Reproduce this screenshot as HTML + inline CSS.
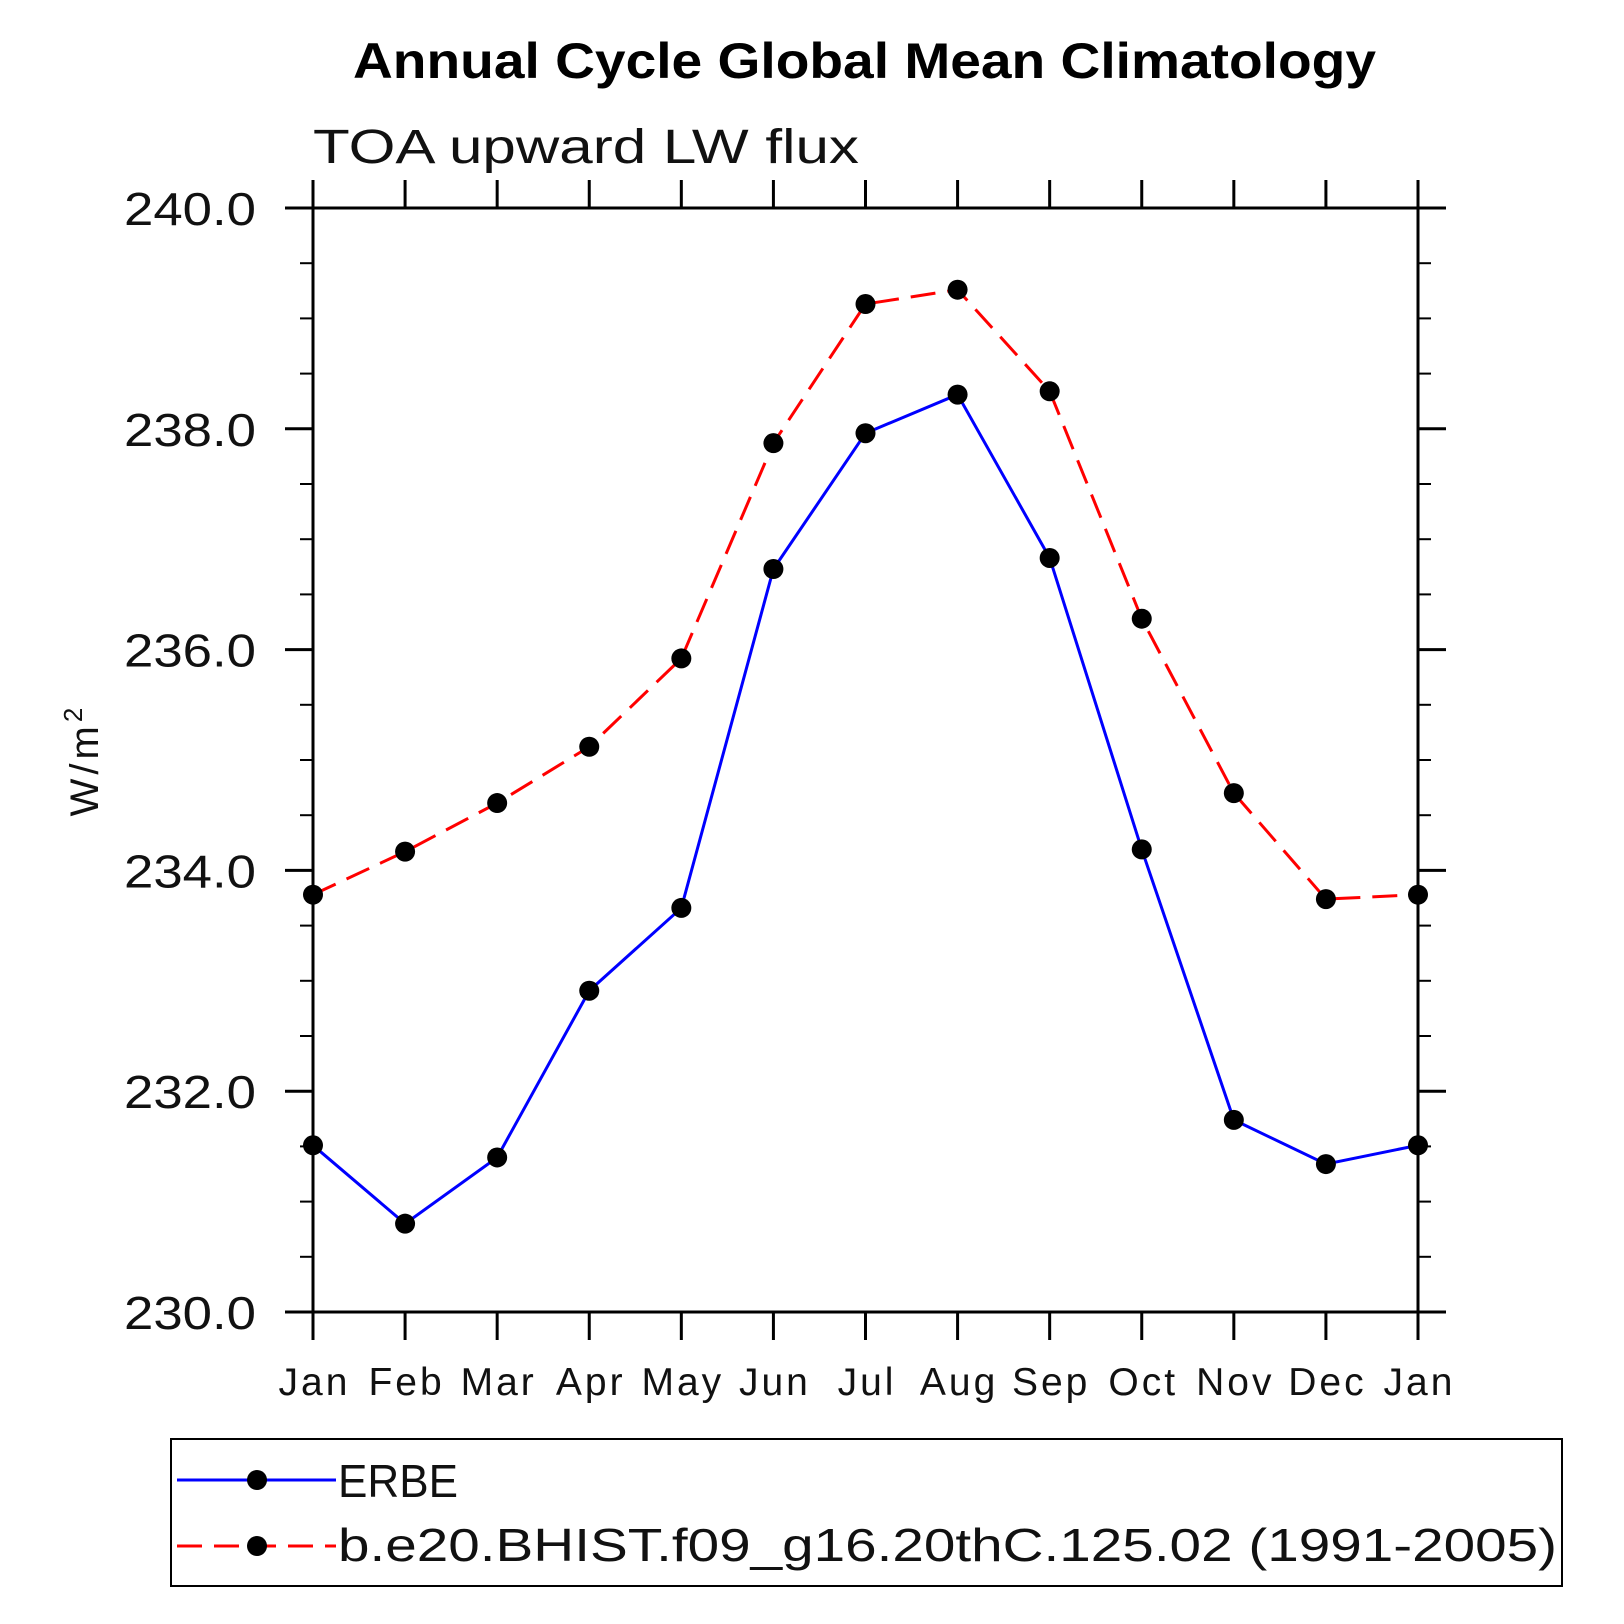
<!DOCTYPE html>
<html><head><meta charset="utf-8"><style>
html,body{margin:0;padding:0;background:#fff;}
svg{display:block;}
text{font-family:"Liberation Sans",sans-serif;}
</style></head><body>
<svg id="chart" width="1624" height="1624" viewBox="0 0 1624 1624" xmlns="http://www.w3.org/2000/svg">
<text x="353" y="78" font-size="50" font-weight="bold" textLength="1023" lengthAdjust="spacingAndGlyphs">Annual Cycle Global Mean Climatology</text>
<text x="313" y="163" font-size="48" textLength="546" lengthAdjust="spacingAndGlyphs" fill="#111">TOA upward LW flux</text>
<text transform="translate(98,760) rotate(-90)" text-anchor="middle" font-size="40" fill="#111" letter-spacing="4">W/m<tspan dy="-16" font-size="26">2</tspan></text>
<g id="axes"></g>
<g id="series"></g>
<g>
<rect x="171" y="1439" width="1391" height="147" fill="none" stroke="#000" stroke-width="2"/>
<g>
<line x1="177" y1="1480" x2="336" y2="1480" stroke="#00f" stroke-width="3"/>
<circle cx="257" cy="1480" r="10" fill="#000"/>
<text x="338" y="1497" font-size="46" fill="#111" textLength="120" lengthAdjust="spacingAndGlyphs">ERBE</text>
</g>
<g>
<line x1="177" y1="1546" x2="336" y2="1546" stroke="#f00" stroke-width="3" stroke-dasharray="25,12"/>
<circle cx="257" cy="1546" r="10" fill="#000"/>
<text x="338" y="1561" font-size="46" fill="#111" textLength="1219" lengthAdjust="spacingAndGlyphs">b.e20.BHIST.f09_g16.20thC.125.02 (1991-2005)</text>
</g>
</g>
</svg>
<script>
const months = ["Jan","Feb","Mar","Apr","May","Jun","Jul","Aug","Sep","Oct","Nov","Dec","Jan"];
const erbeValues = [231.51,230.80,231.40,232.91,233.66,236.73,237.96,238.31,236.83,234.19,231.74,231.34,231.51];
const modelValues = [233.78,234.17,234.61,235.12,235.92,237.87,239.13,239.26,238.34,236.28,234.70,233.74,233.78];
const yTicks = [230,232,234,236,238,240];
const yTickLabels = ["230.0","232.0","234.0","236.0","238.0","240.0"];
const yMin = 230, yMax = 240, yMinorStep = 0.5;

const L=313,R=1418,T=208,B=1312;
const NS="http://www.w3.org/2000/svg";
function xs(i){return L+(R-L)*i/(months.length-1);}
function ys(v){return B-(B-T)*(v-yMin)/(yMax-yMin);}
function mk(tag,attrs,parent){const e=document.createElementNS(NS,tag);for(const k in attrs)e.setAttribute(k,attrs[k]);parent.appendChild(e);return e;}
const axes=document.getElementById('axes');
const frame=mk('rect',{x:L,y:T,width:R-L,height:B-T,fill:'none',stroke:'#000','stroke-width':3},axes);


months.forEach((m,i)=>{
  const x=xs(i);
  const t1=mk('line',{x1:x,y1:B,x2:x,y2:B+28,stroke:'#000','stroke-width':3},axes);
  
  
  const t2=mk('line',{x1:x,y1:T,x2:x,y2:T-28,stroke:'#000','stroke-width':3},axes);
  
  
  const lb=mk('text',{x:x+1.5,y:1395,'text-anchor':'middle','font-size':39,fill:'#111','letter-spacing':3},axes);
  lb.textContent=m;
  
  
});
for(let v=yMin;v<=yMax+1e-9;v+=yMinorStep){
  const y=ys(v);
  const a=mk('line',{x1:L,y1:y,x2:L-13,y2:y,stroke:'#000','stroke-width':2},axes);
  
  
  const b=mk('line',{x1:R,y1:y,x2:R+13,y2:y,stroke:'#000','stroke-width':2},axes);
  
  
}
yTicks.forEach((v,i)=>{
  const y=ys(v);
  const a=mk('line',{x1:L,y1:y,x2:L-28,y2:y,stroke:'#000','stroke-width':3},axes);
  
  
  const b=mk('line',{x1:R,y1:y,x2:R+28,y2:y,stroke:'#000','stroke-width':3},axes);
  
  
  const lb=mk('text',{x:124,y:y+17,'font-size':46,fill:'#111',textLength:132,lengthAdjust:'spacingAndGlyphs'},axes);
  lb.textContent=yTickLabels[i];
  
  
});
const series=document.getElementById('series');
function drawSeries(vals,color,dash,name){
  const pts=vals.map((v,i)=>xs(i)+','+ys(v)).join(' ');
  const attrs={points:pts,fill:'none',stroke:color,'stroke-width':3};
  if(dash)attrs['stroke-dasharray']=dash;
  const pl=mk('polyline',attrs,series);
  
  
  vals.forEach((v,i)=>{
    const c=mk('circle',{cx:xs(i),cy:ys(v),r:10,fill:'#000'},series);
    
    
  });
}
drawSeries(modelValues,'#f00','25,12','model');
drawSeries(erbeValues,'#00f',null,'erbe');
</script>
</body></html>
